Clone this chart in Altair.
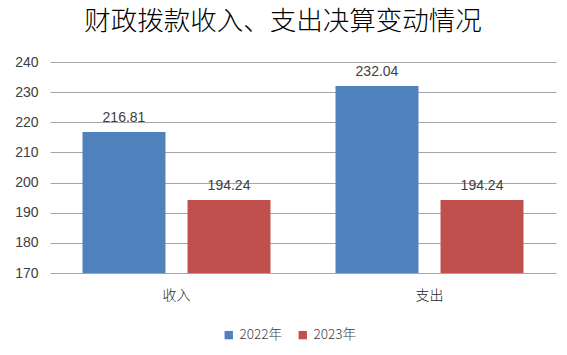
import altair as alt
import pandas as pd

categories = ["收入", "支出"]
years = ["2022年", "2023年"]
values_2022 = [216.81, 232.04]
values_2023 = [194.24, 194.24]

rows = []
for i, c in enumerate(categories):
    rows.append({"cat": c, "year": years[0], "value": values_2022[i]})
    rows.append({"cat": c, "year": years[1], "value": values_2023[i]})
df = pd.DataFrame(rows)

cjk = "Noto Sans CJK SC"
num = "Liberation Sans"

x = alt.X("cat:N", sort=categories, title=None,
          scale=alt.Scale(paddingInner=0.257, paddingOuter=0.1285),
          axis=alt.Axis(labelAngle=0, ticks=False, domain=False, labelPadding=15,
                        labelFontSize=14, labelColor="#262626", labelFont=cjk,
                        labelFontWeight=300))
xo = alt.XOffset("year:N", sort=years, scale=alt.Scale(paddingInner=0.21, paddingOuter=0))
y = alt.Y("value:Q", title=None,
          scale=alt.Scale(domain=[170, 240], zero=False, clamp=True, nice=False),
          axis=alt.Axis(values=[170, 180, 190, 200, 210, 220, 230, 240], ticks=False,
                        domain=False, gridColor="#A6A6A6", gridWidth=1, labelPadding=12,
                        labelOverlap=False, labelFontSize=14, labelColor="#404040", labelFont=num))
color = alt.Color("year:N", sort=years,
                  scale=alt.Scale(domain=years, range=["#4F81BD", "#C0504D"]),
                  legend=alt.Legend(title=None, orient="none", direction="horizontal",
                                    legendX=172, legendY=266, symbolType="square",
                                    symbolSize=70, labelFontSize=13.5, labelFont=cjk,
                                    labelFontWeight=300,
                                    labelColor="#404040", columnPadding=14, symbolStrokeWidth=0))

base = alt.Chart(df).encode(x=x, xOffset=xo, y=y)
bars = base.mark_bar().encode(y2=alt.datum(170), color=color)
text = base.mark_text(dy=-14, fontSize=14, font=num, color="#404040").encode(
    text=alt.Text("value:Q", format=".2f"))

chart = (bars + text).properties(
    width=506, height=211,
    background="white",
    title=alt.Title("财政拨款收入、支出决算变动情况", fontSize=26.5, font=cjk, fontWeight=300,
                    color="#000000", anchor="middle", offset=20, dx=-20),
    padding={"left": 50, "top": 62, "right": 11, "bottom": 82},
    autosize=alt.AutoSizeParams(type="none"),
).configure_view(strokeWidth=0, stroke="transparent")

chart.save("out.html", embed_options={"renderer": "svg", "actions": False})
